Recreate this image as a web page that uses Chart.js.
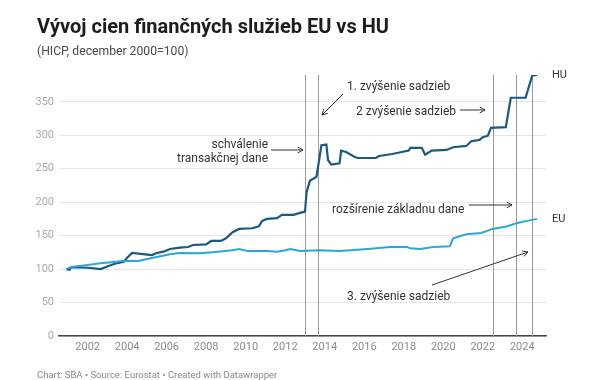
<!DOCTYPE html>
<html>
<head>
<meta charset="utf-8">
<script src="https://cdn.jsdelivr.net/npm/chart.js@4.4.1/dist/chart.umd.min.js"></script>
<style>
  html, body { margin: 0; padding: 0; background: #fff; }
  #wrap { position: relative; width: 600px; height: 380px; overflow: hidden; font-family: Roboto, "Noto Sans", sans-serif; }
  #c { position: absolute; left: 0; top: 0; }
  .title { position: absolute; left: 37px; top: 14px; font-size: 20px; line-height: 24px; font-weight: 700; color: #1d1d1d; white-space: nowrap; }
  .sub { position: absolute; left: 37px; top: 44px; font-size: 12.2px; line-height: 15px; color: #4a4a4a; white-space: nowrap; }
  .foot { position: absolute; left: 37px; top: 369px; font-size: 9.5px; line-height: 12px; color: #888; white-space: nowrap; }
</style>
</head>
<body>
<div id="wrap">
  <canvas id="c" width="600" height="380"></canvas>
  <div class="title">Vývoj cien finančných služieb EU vs HU</div>
  <div class="sub">(HICP, december 2000=100)</div>
  <div class="foot">Chart: SBA • Source: Eurostat • Created with Datawrapper</div>
</div>
<script>
// ---- Data ----
const huDates = ["2000-12","2001-02","2001-03","2002-01","2002-09","2003-02","2003-07","2003-11","2004-01","2004-04","2004-12","2005-04","2005-07","2005-11","2006-03","2006-09","2007-02","2007-05","2008-01","2008-04","2008-10","2009-01","2009-05","2009-09","2010-05","2010-09","2010-11","2011-02","2011-08","2011-11","2012-06","2012-10","2013-01","2013-02","2013-04","2013-08","2013-11","2014-02","2014-03","2014-05","2014-10","2014-11","2015-02","2015-07","2015-09","2016-08","2016-10","2017-06","2018-04","2018-05","2018-12","2019-02","2019-06","2020-03","2020-07","2021-03","2021-06","2021-11","2022-01","2022-04","2022-06","2023-03","2023-06","2024-03","2024-07","2024-10"];
const huValues = [100,99,103,102,100,105,109,111,117,124,122,121,124,126,130,132,133,136,137,142,142,146,155,160,161,164,172,175,176,181,181,184,186,215,232,238,285,286,263,256,258,277,275,268,266,266,269,272,277,281,281,271,277,278,282,284,291,293,297,299,311,312,356,356,389,390];

const euDates = ["2000-12","2001-03","2002-01","2002-10","2003-02","2003-10","2004-08","2005-01","2005-07","2006-03","2006-09","2007-09","2008-05","2009-05","2009-09","2010-02","2011-02","2011-08","2012-01","2012-04","2012-10","2013-10","2014-10","2016-03","2017-05","2018-03","2018-05","2018-11","2019-07","2020-05","2020-07","2021-03","2021-12","2022-07","2023-04","2023-10","2024-04","2024-10"];
const euValues = [100,103,106,109,110,112,112,115,118,122,124,123.5,125,128,130,127,127,126,128,130,127,128,127,130,133,133,131,130,133,134,146,152,154,160,164,169,172,175];

const seriesNames = ["HU", "EU"];
const yTicks = [0, 50, 100, 150, 200, 250, 300, 350];
const xTickYears = [2002, 2004, 2006, 2008, 2010, 2012, 2014, 2016, 2018, 2020, 2022, 2024];

// event markers (vertical lines)
const eventDates = ["2013-01", "2013-09", "2022-07", "2023-09", "2024-07"];

// ---- helpers ----
function toYear(s) { const [y, m] = s.split("-").map(Number); return y + (m - 1) / 12; }
function pts(dates, vals) { return dates.map((d, i) => ({ x: toYear(d), y: vals[i] })); }

const HU_COLOR = "#1b5a80";
const EU_COLOR = "#2ba6d8";
const FONT = "Roboto, 'Noto Sans', sans-serif";

function arrow(ctx, x1, y1, x2, y2) {
  ctx.save();
  ctx.strokeStyle = "#333";
  ctx.lineWidth = 1;
  ctx.beginPath(); ctx.moveTo(x1, y1); ctx.lineTo(x2, y2); ctx.stroke();
  const a = Math.atan2(y2 - y1, x2 - x1), L = 6, w = 0.5;
  ctx.beginPath();
  ctx.moveTo(x2 - L * Math.cos(a - w), y2 - L * Math.sin(a - w));
  ctx.lineTo(x2, y2);
  ctx.lineTo(x2 - L * Math.cos(a + w), y2 - L * Math.sin(a + w));
  ctx.stroke();
  ctx.restore();
}

const overlay = {
  id: "overlay",
  beforeDatasetsDraw(chart) {
    const ctx = chart.ctx, xs = chart.scales.x, ys = chart.scales.y;
    ctx.save();
    ctx.strokeStyle = "#9a9a9a";
    ctx.lineWidth = 1;
    eventDates.forEach(d => {
      const x = Math.round(xs.getPixelForValue(toYear(d))) + 0.5;
      ctx.beginPath(); ctx.moveTo(x, chart.chartArea.top); ctx.lineTo(x, ys.getPixelForValue(0)); ctx.stroke();
    });
    ctx.restore();
  },
  afterDatasetsDraw(chart) {
    const ctx = chart.ctx;
    ctx.save();
    ctx.fillStyle = "#333";
    ctx.font = "12px " + FONT;
    ctx.textBaseline = "middle";
    // annotations
    ctx.textAlign = "left";
    ctx.fillText("1. zvýšenie sadzieb", 347, 87);
    arrow(ctx, 343, 94, 322, 115);
    ctx.fillText("2 zvýšenie sadzieb", 356, 112);
    arrow(ctx, 460, 110, 485, 110);
    ctx.textAlign = "right";
    ctx.fillText("schválenie", 268, 145);
    ctx.fillText("transakčnej dane", 268, 159);
    arrow(ctx, 271, 150, 303, 150);
    ctx.textAlign = "left";
    ctx.fillText("rozšírenie základnu dane", 332, 210);
    arrow(ctx, 469, 205, 512, 205);
    ctx.fillText("3. zvýšenie sadzieb", 347, 297);
    arrow(ctx, 432, 285, 528, 252);
    // end labels
    const ys = chart.scales.y;
    ctx.font = "11px " + FONT;
    ctx.fillText(seriesNames[0], 552, ys.getPixelForValue(huValues[huValues.length - 1]));
    ctx.fillText(seriesNames[1], 552, ys.getPixelForValue(euValues[euValues.length - 1]));
    ctx.restore();
  }
};

new Chart(document.getElementById("c"), {
  type: "line",
  data: {
    datasets: [
      { label: seriesNames[1], data: pts(euDates, euValues), borderColor: EU_COLOR, borderWidth: 2, pointRadius: 0, tension: 0, fill: false },
      { label: seriesNames[0], data: pts(huDates, huValues), borderColor: HU_COLOR, borderWidth: 2.2, pointRadius: 0, tension: 0, fill: false }
    ]
  },
  options: {
    responsive: false,
    devicePixelRatio: 1,
    animation: false,
    events: [],
    layout: { padding: { left: 0, top: 75, right: 54, bottom: 0 } },
    plugins: { legend: { display: false }, tooltip: { enabled: false }, title: { display: false } },
    scales: {
      x: {
        type: "linear",
        min: 2000.55,
        max: 2025.2,
        afterBuildTicks(scale) { scale.ticks = xTickYears.map(v => ({ value: v })); },
        afterFit(scale) { scale.height = 44; },
        grid: { display: false, drawTicks: false },
        border: { display: true, color: "#444", width: 1.5 },
        ticks: { color: "#8a8a8a", font: { family: FONT, size: 11 }, padding: 5, maxRotation: 0, autoSkip: false, callback: v => String(v) }
      },
      y: {
        min: 0,
        max: 390,
        afterBuildTicks(scale) { scale.ticks = yTicks.map(v => ({ value: v })); },
        afterFit(scale) { scale.width = 59; },
        grid: { color: "#e6e6e6", drawTicks: false, lineWidth: 1 },
        border: { display: false },
        ticks: { color: "#aaaaaa", font: { family: FONT, size: 11 }, padding: 5, callback: v => String(v) }
      }
    }
  },
  plugins: [overlay]
});
</script>
</body>
</html>
